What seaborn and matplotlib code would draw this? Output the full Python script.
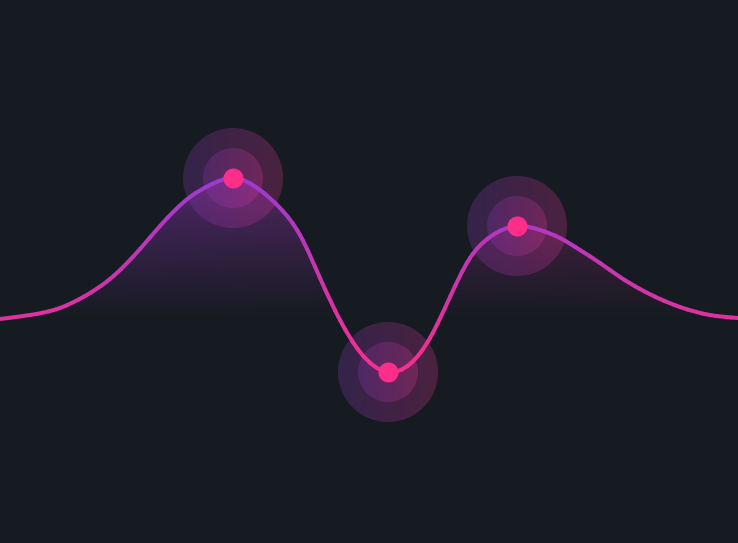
import numpy as np
import matplotlib
matplotlib.use("Agg")
import matplotlib.pyplot as plt
import seaborn as sns
from matplotlib.path import Path
from matplotlib.patches import PathPatch, Circle
from matplotlib.collections import LineCollection
from matplotlib.colors import LinearSegmentedColormap, Normalize, to_rgb

# ---- data (height above the baseline) ----
x_pos = [0, 30, 60, 85, 110, 140, 160, 190, 210, 233, 260, 280, 300, 320, 340, 360,
         388, 410, 430, 450, 470, 490, 517, 540, 560, 580, 600, 620, 640, 660, 680, 710, 738]
values = [-1, 3, 10, 22, 39, 69, 92, 121, 133, 140, 128, 110, 83, 40, -2, -34,
          -54, -46, -20, 21, 60, 81, 92, 88, 80, 68, 55, 41, 29, 19, 11, 3, 0]
highlight_x = [233, 388, 517]
highlight_v = [140, -54, 92]

# ---- style ----
BG = "#161b22"
LINE_TOP, LINE_BOTTOM = "#9b3bd0", "#f72f8c"
FILL_LEFT, FILL_RIGHT = "#923ede", "#aa2467"
HALO_LEFT, HALO_RIGHT = "#8f3bbf", "#e33797"
DOT = "#ff2e8a"

sns.set_theme(style="dark", rc={"axes.facecolor": BG, "figure.facecolor": BG})
fig = plt.figure(figsize=(7.38, 5.43), dpi=100)
ax = fig.add_axes([0, 0, 1, 1])
ax.set_facecolor(BG)

XMIN, XMAX, VMIN, VMAX = 0, 738, -225, 318

# smooth (C2 natural cubic) curve through the points, drawn as Bezier segments
xk = np.array(x_pos, float)
yk = np.array(values, float)
n = len(xk)
h = np.diff(xk)
A = np.zeros((n, n))
b = np.zeros(n)
A[0, 0] = A[-1, -1] = 1.0
for i in range(1, n - 1):
    A[i, i - 1] = h[i - 1]
    A[i, i] = 2 * (h[i - 1] + h[i])
    A[i, i + 1] = h[i]
    b[i] = 6 * ((yk[i + 1] - yk[i]) / h[i] - (yk[i] - yk[i - 1]) / h[i - 1])
M = np.linalg.solve(A, b)
m = np.zeros(n)
for i in range(n - 1):
    m[i] = (yk[i + 1] - yk[i]) / h[i] - h[i] * (2 * M[i] + M[i + 1]) / 6
m[-1] = (yk[-1] - yk[-2]) / h[-1] + h[-1] * (M[-2] + 2 * M[-1]) / 6

verts = [[xk[0], yk[0]]]
codes = [Path.MOVETO]
for i in range(n - 1):
    verts.append([xk[i] + h[i] / 3, yk[i] + m[i] * h[i] / 3])
    verts.append([xk[i + 1] - h[i] / 3, yk[i + 1] - m[i + 1] * h[i] / 3])
    verts.append([xk[i + 1], yk[i + 1]])
    codes += [Path.CURVE4] * 3
curve = Path(np.array(verts), codes)
poly = curve.to_polygons(closed_only=False)[0]

# gradient fill under the curve
H, W = 300, 738
xs = np.linspace(XMIN, XMAX, W)
vs = np.linspace(0, 145, H)
t = (xs - XMIN) / (XMAX - XMIN)
c0, c1 = np.array(to_rgb(FILL_LEFT)), np.array(to_rgb(FILL_RIGHT))
rgb = c0[None, :] * (1 - t[:, None]) + c1[None, :] * t[:, None]
img = np.zeros((H, W, 4))
img[..., :3] = rgb[None, :, :]
img[..., 3] = np.clip(0.45 * vs / 140, 0, 1)[:, None]
im = ax.imshow(img, extent=[XMIN, XMAX, 0, 145], origin="lower", aspect="auto",
               interpolation="bilinear", zorder=1)
fill_verts = np.vstack([poly, [[XMAX, 0], [XMIN, 0], poly[0]]])
fill_patch = PathPatch(Path(fill_verts, closed=True), facecolor="none", edgecolor="none",
                       transform=ax.transData)
ax.add_patch(fill_patch)
im.set_clip_path(fill_patch)

# halos around the highlighted points
h0, h1 = np.array(to_rgb(HALO_LEFT)), np.array(to_rgb(HALO_RIGHT))
for cx, cv in zip(highlight_x, highlight_v):
    for r in (50, 30):
        tt = np.linspace(0, 1, 100)
        g = np.zeros((2, 100, 4))
        g[..., :3] = (h0[None, :] * (1 - tt[:, None]) + h1[None, :] * tt[:, None])[None, :, :]
        g[..., 3] = 0.26
        hi = ax.imshow(g, extent=[cx - r, cx + r, cv - r, cv + r], origin="lower",
                       aspect="auto", interpolation="bilinear", zorder=2)
        circ = Circle((cx, cv), r, transform=ax.transData, facecolor="none", edgecolor="none")
        ax.add_patch(circ)
        hi.set_clip_path(circ)

# gradient line
segs = np.stack([poly[:-1], poly[1:]], axis=1)
mid_v = (poly[:-1, 1] + poly[1:, 1]) / 2
cmap = LinearSegmentedColormap.from_list("line", [LINE_BOTTOM, LINE_TOP])
lc = LineCollection(segs, cmap=cmap, norm=Normalize(min(values), max(values)),
                    linewidths=2.9, capstyle="round", joinstyle="round", zorder=3)
lc.set_array(mid_v)
ax.add_collection(lc)

# points
sns.scatterplot(x=highlight_x, y=highlight_v, s=207, color=DOT, linewidth=0,
                zorder=5, ax=ax, legend=False)

ax.set_xlim(XMIN, XMAX)
ax.set_ylim(VMIN, VMAX)
ax.set_axis_off()
fig.savefig("out.png", dpi=100, facecolor=BG)
